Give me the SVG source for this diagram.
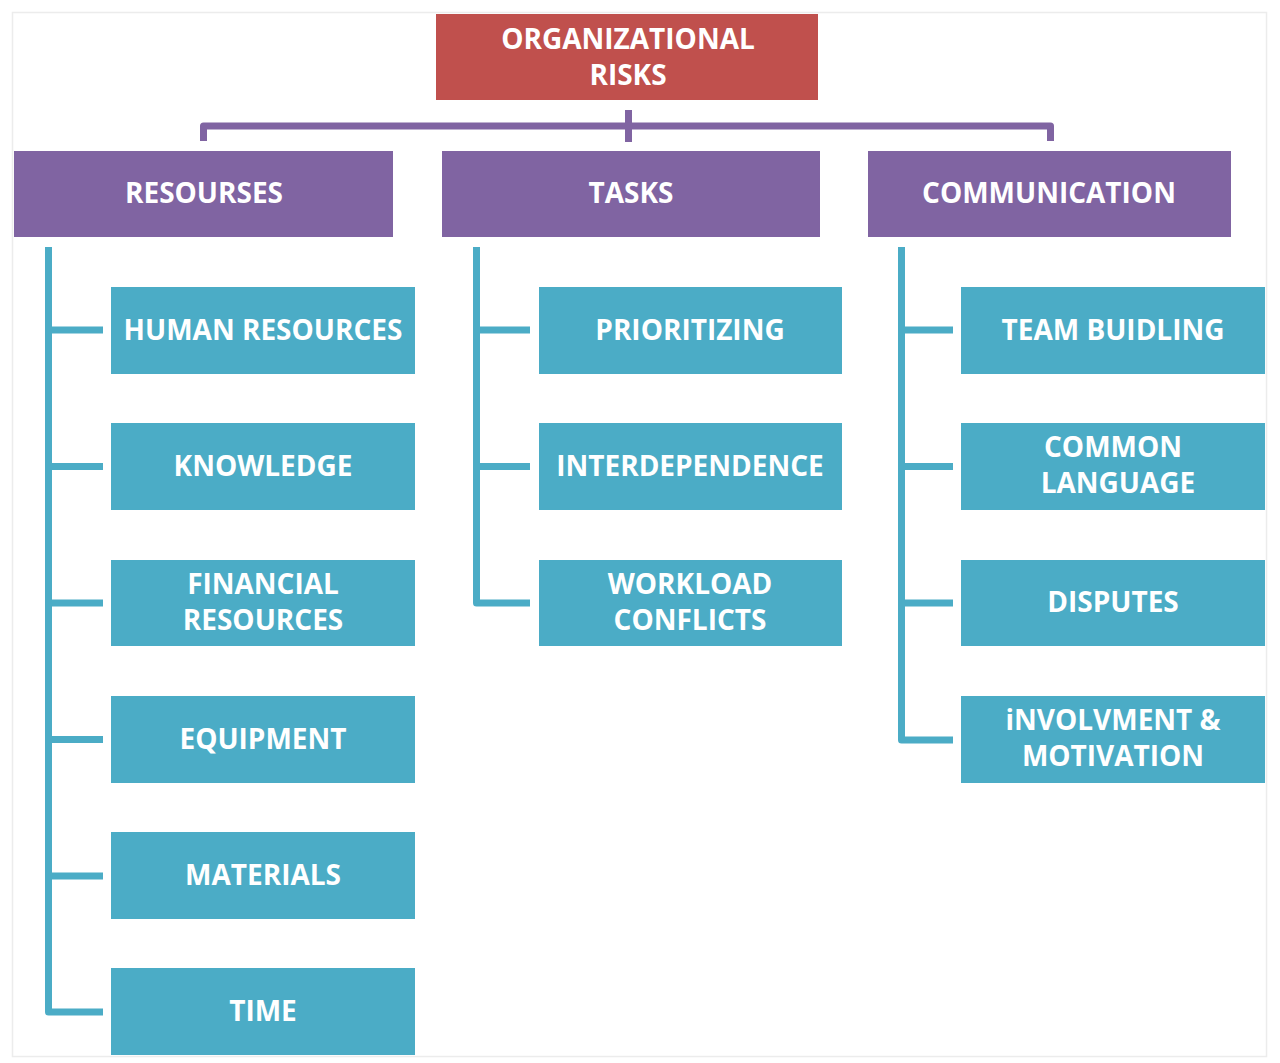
<svg xmlns="http://www.w3.org/2000/svg" width="1280" height="1063" viewBox="0 0 1280 1063">
<defs>
<style>
.frame{fill:#ffffff;stroke:#ececec;stroke-width:1.5}
.root{fill:#c0504d}
.cat{fill:#8064a2}
.leaf{fill:#4bacc6}
.t{fill:#ffffff;font-family:"Open Sans","Liberation Sans",sans-serif;font-weight:700;font-size:28px;text-anchor:middle}
.cp{fill:none;stroke:#8064a2;stroke-width:7;stroke-linejoin:round}
.ct{fill:none;stroke:#4bacc6;stroke-width:7;stroke-linejoin:round}
</style>
</defs>
<rect x="0" y="0" width="1280" height="1063" fill="#ffffff"/>
<rect class="frame" x="12.5" y="12.5" width="1254" height="1044"/>
<g id="connectors">
<path class="cp" d="M203.5 141 V126 H1050.5 V141"/>
<path class="cp" d="M628.5 110 V142"/>
<path class="ct" d="M48.5 247 V1012 H103 M48.5 330 H103 M48.5 466.5 H103 M48.5 603 H103 M48.5 739.5 H103 M48.5 876 H103"/>
<path class="ct" d="M476.5 247 V603 H530 M476.5 330 H530 M476.5 466.5 H530"/>
<path class="ct" d="M901.5 247 V740 H953 M901.5 330 H953 M901.5 466.5 H953 M901.5 603 H953"/>
</g>
<g id="organizational-risks"><rect class="root" x="436" y="14" width="382" height="86"/><text class="t" x="628" y="49">ORGANIZATIONAL</text><text class="t" x="628" y="85">RISKS</text></g>
<g id="resourses"><rect class="cat" x="14" y="151" width="379" height="86"/><text class="t" x="204" y="203">RESOURSES</text></g>
<g id="tasks"><rect class="cat" x="442" y="151" width="378" height="86"/><text class="t" x="631" y="203">TASKS</text></g>
<g id="communication"><rect class="cat" x="868" y="151" width="363" height="86"/><text class="t" x="1049" y="203">COMMUNICATION</text></g>
<g id="human-resources"><rect class="leaf" x="111" y="287" width="304" height="87"/><text class="t" x="263" y="340">HUMAN RESOURCES</text></g>
<g id="knowledge"><rect class="leaf" x="111" y="423" width="304" height="87"/><text class="t" x="263" y="476">KNOWLEDGE</text></g>
<g id="financial-resources"><rect class="leaf" x="111" y="560" width="304" height="86"/><text class="t" x="263" y="594">FINANCIAL</text><text class="t" x="263" y="630">RESOURCES</text></g>
<g id="equipment"><rect class="leaf" x="111" y="696" width="304" height="87"/><text class="t" x="263" y="749">EQUIPMENT</text></g>
<g id="materials"><rect class="leaf" x="111" y="832" width="304" height="87"/><text class="t" x="263" y="885">MATERIALS</text></g>
<g id="time"><rect class="leaf" x="111" y="968" width="304" height="87"/><text class="t" x="263" y="1021">TIME</text></g>
<g id="prioritizing"><rect class="leaf" x="539" y="287" width="303" height="87"/><text class="t" x="690" y="340">PRIORITIZING</text></g>
<g id="interdependence"><rect class="leaf" x="539" y="423" width="303" height="87"/><text class="t" x="690" y="476">INTERDEPENDENCE</text></g>
<g id="workload-conflicts"><rect class="leaf" x="539" y="560" width="303" height="86"/><text class="t" x="690" y="594">WORKLOAD</text><text class="t" x="690" y="630">CONFLICTS</text></g>
<g id="team-buidling"><rect class="leaf" x="961" y="287" width="304" height="87"/><text class="t" x="1113" y="340">TEAM BUIDLING</text></g>
<g id="common-language"><rect class="leaf" x="961" y="423" width="304" height="87"/><text class="t" x="1113" y="457">COMMON</text><text class="t" x="1118" y="493">LANGUAGE</text></g>
<g id="disputes"><rect class="leaf" x="961" y="560" width="304" height="86"/><text class="t" x="1113" y="612">DISPUTES</text></g>
<g id="involvment-motivation"><rect class="leaf" x="961" y="696" width="304" height="87"/><text class="t" x="1113" y="730">iNVOLVMENT &amp;</text><text class="t" x="1113" y="766">MOTIVATION</text></g>
</svg>
